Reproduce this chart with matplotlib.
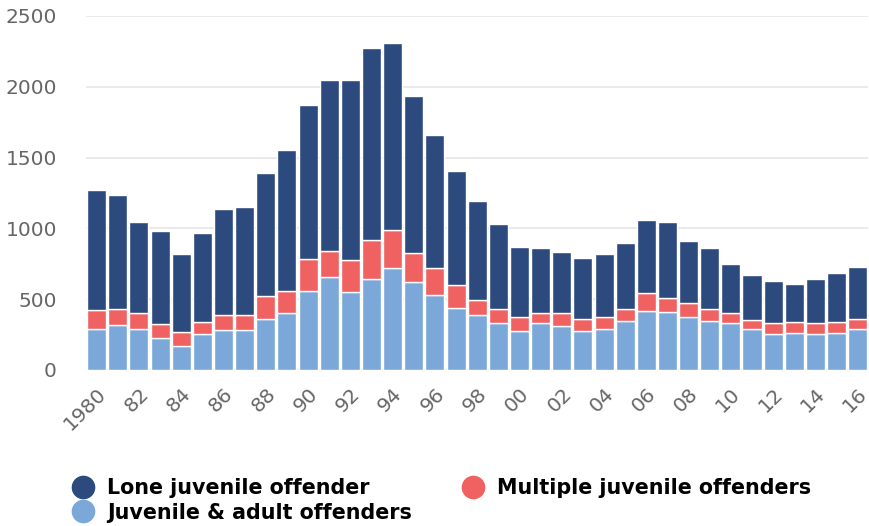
import matplotlib
matplotlib.use("Agg")
import matplotlib.pyplot as plt
from matplotlib.lines import Line2D
import numpy as np

# values (incidents per year)
years = list(range(1980, 2017))
total = [1271, 1233, 1045, 979, 819, 967, 1139, 1153, 1393, 1553,
         1871, 2045, 2045, 2271, 2311, 1937, 1657, 1405, 1193, 1031,
         871, 859, 833, 793, 819, 899, 1059, 1045, 911, 859,
         750, 673, 631, 605, 645, 687, 727]
upto_multiple = [424, 433, 400, 323, 266, 337, 386, 386, 522, 558,
                 786, 842, 777, 920, 988, 828, 720, 598, 494, 431,
                 376, 405, 405, 358, 376, 428, 541, 511, 471, 431,
                 405, 353, 330, 341, 330, 341, 360]
juv_adult = [290, 318, 290, 224, 169, 254, 280, 280, 358, 400,
             556, 654, 548, 640, 720, 623, 530, 440, 385, 330,
             277, 330, 313, 277, 290, 346, 419, 409, 372, 346,
             330, 290, 252, 263, 252, 263, 290]

multiple = [m - j for m, j in zip(upto_multiple, juv_adult)]
lone = [t - m for t, m in zip(total, upto_multiple)]

tick_labels = ["1980"] + ["%02d" % (y % 100) for y in years[2::2]]

c_lone = "#2c4a7e"
c_multi = "#f06161"
c_juv = "#7ba8d8"

fig = plt.figure(figsize=(8.7, 5.26), dpi=100)
ax = fig.add_axes([0.099, 0.2966, 0.899, 0.673])

x = np.arange(len(years))
w = 0.9
ax.bar(x, juv_adult, w, color=c_juv, edgecolor="white", linewidth=1, zorder=2)
ax.bar(x, multiple, w, bottom=juv_adult, color=c_multi, edgecolor="white", linewidth=1, zorder=2)
ax.bar(x, lone, w, bottom=upto_multiple, color=c_lone, edgecolor="white", linewidth=1, zorder=2)

ax.set_xlim(-0.5, len(years) - 0.5)
ax.set_ylim(0, 2500)
ax.set_yticks([0, 500, 1000, 1500, 2000, 2500])
ax.set_xticks(x[::2])
ax.set_xticklabels(tick_labels, rotation=45, ha="right", rotation_mode="anchor")
ax.tick_params(axis="both", length=0, labelsize=14.5, labelcolor="#666666")
ax.tick_params(axis="y", pad=21)
ax.tick_params(axis="x", pad=10)
ax.yaxis.grid(True, color="#e6e6e6", linewidth=1.2, zorder=0)
for s in ax.spines.values():
    s.set_visible(False)

handles = [
    Line2D([], [], marker="o", linestyle="", markersize=16, color=c_lone),
    Line2D([], [], marker="o", linestyle="", markersize=16, color=c_juv),
    Line2D([], [], marker="o", linestyle="", markersize=16, color=c_multi),
]
labels = ["Lone juvenile offender", "Juvenile & adult offenders", "Multiple juvenile offenders"]
fig.legend(handles, labels, ncol=2, loc="upper left", bbox_to_anchor=(0.0834, 0.091),
           frameon=False, borderpad=0, borderaxespad=0, handlelength=1.0,
           handletextpad=0.66, columnspacing=2.45, labelspacing=0.22,
           prop={"family": "DejaVu Sans", "weight": "bold", "size": 14.9})

fig.savefig("out.png", dpi=100)
